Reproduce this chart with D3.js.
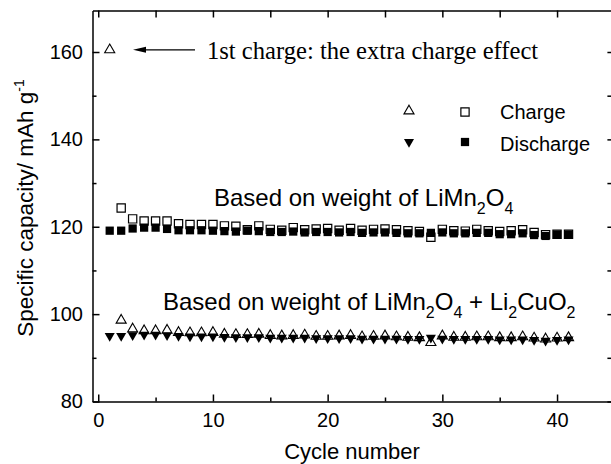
<!DOCTYPE html>
<html>
<head>
<meta charset="utf-8">
<script src="https://cdn.jsdelivr.net/npm/d3@7"></script>
<style>
  html, body { margin: 0; padding: 0; background: white; }
  svg { display: block; }
</style>
</head>
<body>
<script>
// cycle numbers on the x axis
const cycles = [1, 2, 3, 4, 5, 6, 7, 8, 9, 10, 11, 12, 13, 14, 15, 16, 17, 18, 19, 20,
  21, 22, 23, 24, 25, 26, 27, 28, 29, 30, 31, 32, 33, 34, 35, 36, 37, 38, 39, 40, 41];

// based on weight of LiMn2O4 (squares)
const chargeMn = [null, 124.3, 121.8, 121.3, 121.3, 121.3, 120.7, 120.5, 120.5, 120.5,
  120.2, 120.1, 119.3, 120.2, 119.4, 119.2, 119.8, 119.3, 119.5, 119.6,
  119.2, 119.6, 119.2, 119.4, 119.5, 119.3, 119.1, 118.9, 117.6, 119.4,
  119.1, 119.0, 119.4, 119.1, 118.9, 119.1, 119.3, 118.7, 118.2, 118.3, 118.3];
const dischargeMn = [119.1, 119.1, 119.6, 119.8, 119.8, 119.5, 119.2, 119.2, 119.2, 119.1,
  119.0, 118.9, 119.1, 119.0, 118.8, 118.8, 118.9, 118.7, 118.8, 118.8,
  118.7, 118.8, 118.6, 118.7, 118.7, 118.6, 118.5, 118.5, 118.6, 118.7,
  118.5, 118.5, 118.6, 118.6, 118.3, 118.3, 118.5, 118.1, 117.9, 118.2, 118.2];

// based on weight of LiMn2O4 + Li2CuO2 (triangles)
const chargeMix = [160.5, 98.6, 96.6, 96.2, 96.2, 96.3, 95.8, 95.7, 95.7, 95.8,
  95.4, 95.3, 95.3, 95.4, 95.1, 95.0, 95.1, 95.2, 94.9, 94.9,
  95.0, 95.1, 94.8, 94.9, 95.0, 94.8, 94.7, 94.6, 93.5, 95.0,
  94.7, 94.7, 94.8, 94.8, 94.6, 94.6, 94.8, 94.5, 94.3, 94.5, 94.6];
const dischargeMix = [95.0, 95.0, 95.2, 95.3, 95.3, 95.2, 95.0, 94.9, 94.9, 94.9,
  94.8, 94.7, 94.7, 94.7, 94.6, 94.6, 94.6, 94.6, 94.5, 94.5,
  94.5, 94.5, 94.4, 94.4, 94.4, 94.4, 94.3, 94.3, 94.6, 94.4,
  94.3, 94.3, 94.3, 94.3, 94.2, 94.2, 94.2, 94.1, 93.9, 94.1, 94.2];

// tick values
const xMajorTicks = [0, 10, 20, 30, 40];
const xMinorTicks = [5, 15, 25, 35];
const yMajorTicks = [80, 100, 120, 140, 160];
const yMinorTicks = [90, 110, 130, 150];

const width = 611;
const height = 464;
const sans = 'Liberation Sans, Arial, Helvetica, sans-serif';
const serif = 'Liberation Serif, Times New Roman, serif';

// Declare the scales.
const x = d3.scaleLinear().domain([-0.5, 45]).range([92.5, 614.4]);
const y = d3.scaleLinear().domain([80, 169.5]).range([401.5, 10.5]);

const svg = d3.select('body').append('svg')
  .attr('width', width)
  .attr('height', height)
  .attr('viewBox', [0, 0, width, height])
  .style('font-family', sans);

const styleAxis = (g) => {
  g.selectAll('.domain').attr('stroke', 'black').attr('stroke-width', 1.5);
  g.selectAll('.tick line').attr('stroke', 'black').attr('stroke-width', 1.5);
  g.selectAll('.tick text').attr('fill', 'black').style('font-size', '20px').style('font-family', sans);
};

// bottom axis, major with labels, then minor
svg.append('g')
  .attr('transform', `translate(0,${y.range()[0]})`)
  .call(d3.axisBottom(x).tickValues(xMajorTicks).tickSize(-7).tickSizeOuter(0).tickPadding(11).tickFormat(d3.format('d')))
  .call(styleAxis);
svg.append('g')
  .attr('transform', `translate(0,${y.range()[0]})`)
  .call(d3.axisBottom(x).tickValues(xMinorTicks).tickSize(-4).tickSizeOuter(0).tickFormat(''))
  .call(styleAxis)
  .call((g) => g.select('.domain').remove());

// top axis, ticks only
svg.append('g')
  .attr('transform', `translate(0,${y.range()[1]})`)
  .call(d3.axisTop(x).tickValues(xMajorTicks.concat(xMinorTicks)).tickSize(-7).tickSizeOuter(0).tickFormat(''))
  .call(styleAxis);

// left axis
svg.append('g')
  .attr('transform', `translate(${x.range()[0]},0)`)
  .call(d3.axisLeft(y).tickValues(yMajorTicks).tickSize(-7).tickSizeOuter(0).tickPadding(9.5))
  .call(styleAxis);
svg.append('g')
  .attr('transform', `translate(${x.range()[0]},0)`)
  .call(d3.axisLeft(y).tickValues(yMinorTicks).tickSize(-4).tickSizeOuter(0).tickFormat(''))
  .call(styleAxis)
  .call((g) => g.select('.domain').remove());

// right axis, ticks only
svg.append('g')
  .attr('transform', `translate(${x.range()[1]},0)`)
  .call(d3.axisRight(y).tickValues(yMajorTicks.concat(yMinorTicks)).tickSize(-7).tickSizeOuter(0).tickFormat(''))
  .call(styleAxis);

// axis titles
svg.append('text')
  .attr('x', 352)
  .attr('y', 459)
  .attr('text-anchor', 'middle')
  .style('font-size', '22px')
  .text('Cycle number');

const yTitle = svg.append('text')
  .attr('transform', 'translate(33,208) rotate(-90)')
  .attr('text-anchor', 'middle')
  .style('font-size', '22.5px');
yTitle.append('tspan').text('Specific capacity/ mAh g');
yTitle.append('tspan').attr('dy', -9).style('font-size', '14px').text('-1');

// markers
const square = d3.symbol(d3.symbolSquare, 68);
const triangle = d3.symbol(d3.symbolTriangle, 44);

const points = (values) => cycles
  .map((c, i) => ({ c, v: values[i] }))
  .filter((d) => d.v != null);

svg.append('g')
  .selectAll('path')
  .data(points(chargeMn))
  .join('path')
  .attr('d', square)
  .attr('transform', (d) => `translate(${x(d.c)},${y(d.v)})`)
  .attr('fill', 'white')
  .attr('stroke', 'black')
  .attr('stroke-width', 1.2);

svg.append('g')
  .selectAll('path')
  .data(points(dischargeMn))
  .join('path')
  .attr('d', square)
  .attr('transform', (d) => `translate(${x(d.c)},${y(d.v)})`)
  .attr('fill', 'black');

svg.append('g')
  .selectAll('path')
  .data(points(chargeMix))
  .join('path')
  .attr('d', triangle)
  .attr('transform', (d) => `translate(${x(d.c)},${y(d.v)})`)
  .attr('fill', 'white')
  .attr('stroke', 'black')
  .attr('stroke-width', 1.1);

svg.append('g')
  .selectAll('path')
  .data(points(dischargeMix))
  .join('path')
  .attr('d', triangle)
  .attr('transform', (d) => `translate(${x(d.c)},${y(d.v)}) rotate(180)`)
  .attr('fill', 'black');

// annotation for the first charge
const firstY = y(chargeMix[0]);
svg.append('line')
  .attr('x1', 195).attr('x2', 140)
  .attr('y1', firstY).attr('y2', firstY)
  .attr('stroke', 'black')
  .attr('stroke-width', 1.3);
svg.append('path')
  .attr('d', `M133,${firstY} L146,${firstY - 3} L146,${firstY + 3} Z`)
  .attr('fill', 'black');
svg.append('text')
  .attr('x', 207)
  .attr('y', firstY + 9)
  .style('font-family', serif)
  .style('font-size', '24.6px')
  .text('1st charge: the extra charge effect');

// legend
const legend = svg.append('g');
legend.append('path').attr('d', triangle).attr('transform', 'translate(409,111)')
  .attr('fill', 'white').attr('stroke', 'black').attr('stroke-width', 1.1);
legend.append('path').attr('d', square).attr('transform', 'translate(465,112)')
  .attr('fill', 'white').attr('stroke', 'black').attr('stroke-width', 1.2);
legend.append('path').attr('d', triangle).attr('transform', 'translate(409,142) rotate(180)')
  .attr('fill', 'black');
legend.append('path').attr('d', square).attr('transform', 'translate(465,142)')
  .attr('fill', 'black');
legend.append('text').attr('x', 500).attr('y', 119).style('font-size', '20px').text('Charge');
legend.append('text').attr('x', 500).attr('y', 151).style('font-size', '20px').text('Discharge');

// series labels with subscripts
const label = (xPos, yPos, parts) => {
  const t = svg.append('text').attr('x', xPos).attr('y', yPos).style('font-size', '24px');
  let lowered = false;
  parts.forEach(([txt, sub]) => {
    t.append('tspan').attr('dy', lowered ? -8 : 0).text(txt);
    t.append('tspan').attr('dy', 8).style('font-size', '16px').text(sub);
    lowered = true;
  });
};
label(214, 206, [['Based on weight of LiMn', '2'], ['O', '4']]);
label(163, 310, [['Based on weight of LiMn', '2'], ['O', '4'], [' + Li', '2'], ['CuO', '2']]);
</script>
</body>
</html>
